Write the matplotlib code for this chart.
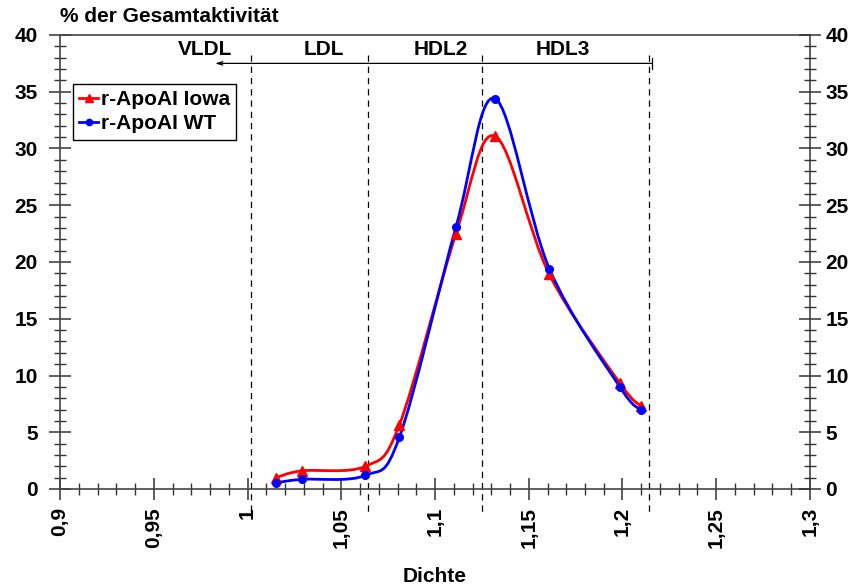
import matplotlib
matplotlib.use('Agg')
import matplotlib.pyplot as plt
from matplotlib.path import Path
from matplotlib.patches import PathPatch
from matplotlib.ticker import MultipleLocator, FuncFormatter

plt.rcParams['font.family'] = ['Liberation Sans', 'DejaVu Sans']
plt.rcParams['font.weight'] = 'bold'
FS = 15

# Density fractions and activity share (%)
dichte = [1.0152, 1.0289, 1.0629, 1.081, 1.1112, 1.132, 1.161, 1.1987, 1.2099]
iowa = [1.0, 1.6, 2.0, 5.65, 22.5, 31.1, 18.9, 9.3, 7.3]
wt = [0.55, 0.85, 1.2, 4.55, 23.1, 34.4, 19.4, 8.96, 6.96]

# Fraction boundaries and labels
grenzen = [1.002, 1.064, 1.125, 1.214]
fraktionen = ['VLDL', 'LDL', 'HDL2', 'HDL3']
label_x = [0.9773, 1.041, 1.103, 1.168]

XMIN, XMAX, YMIN, YMAX = 0.9, 1.3, 0, 40


def smooth_path(xs, ys):
    # Bezier curve through the points (like Excel's smoothed line),
    # computed in axes fraction so the curve shape is independent of scale
    px = [(x - XMIN) / (XMAX - XMIN) for x in xs]
    py = [(y - YMIN) / (YMAX - YMIN) for y in ys]
    n = len(px)
    verts = [(px[0], py[0])]
    codes = [Path.MOVETO]
    for i in range(n - 1):
        p0 = max(i - 1, 0)
        p3 = min(i + 2, n - 1)
        c1 = (px[i] + (px[i + 1] - px[p0]) / 6, py[i] + (py[i + 1] - py[p0]) / 6)
        c2 = (px[i + 1] - (px[p3] - px[i]) / 6, py[i + 1] - (py[p3] - py[i]) / 6)
        verts += [c1, c2, (px[i + 1], py[i + 1])]
        codes += [Path.CURVE4] * 3
    return Path(verts, codes)


fig = plt.figure(figsize=(8.54, 5.87), dpi=100)
ax = fig.add_axes([60 / 854, 1 - 489 / 587, 750 / 854, 454 / 587])
ax.set_xlim(XMIN, XMAX)
ax.set_ylim(YMIN, YMAX)

# smoothed curves + markers
for ys, col, mk, ms, lab in [(iowa, '#ff0000', '^', 7, 'r-ApoAI Iowa'),
                             (wt, '#0000ff', 'o', 5.5, 'r-ApoAI WT')]:
    ax.add_patch(PathPatch(smooth_path(dichte, ys), transform=ax.transAxes,
                           fill=False, edgecolor=col, lw=2, zorder=4))
    ax.plot(dichte, ys, linestyle='none', marker=mk, ms=ms, color=col, zorder=5)
    ax.plot([], [], color=col, lw=2, marker=mk, ms=ms - 1, label=lab)

# fraction boundaries
for g in grenzen:
    ax.plot([g, g], [38.2, -2.3], color='black', lw=0.9, dashes=(5, 4),
            clip_on=False, zorder=2)
ax.annotate('', xy=(0.9827, 37.5), xytext=(grenzen[-1] + 0.0015, 37.5),
            arrowprops=dict(arrowstyle='->,head_length=0.4,head_width=0.12',
                            lw=0.9, color='black', shrinkA=0, shrinkB=0))
ax.plot([grenzen[-1] + 0.0015] * 2, [37.0, 38.0], color='black', lw=0.9)
for lx, name in zip(label_x, fraktionen):
    ax.text(lx, 38.75, name, ha='center', va='center', fontsize=FS,
            fontweight='bold')

# axes styling
ax.spines['bottom'].set_position(('data', 0))
for s in ax.spines.values():
    s.set_color('#444444')
    s.set_linewidth(1.2)

ax.xaxis.set_major_locator(MultipleLocator(0.05))
ax.xaxis.set_minor_locator(MultipleLocator(0.01))
ax.yaxis.set_major_locator(MultipleLocator(5))
ax.yaxis.set_minor_locator(MultipleLocator(1))
ax.xaxis.set_major_formatter(FuncFormatter(lambda v, p: f'{v:g}'.replace('.', ',')))
ax.tick_params(which='major', direction='inout', length=16, width=1.1,
               color='#333333', labelsize=FS)
ax.tick_params(which='minor', direction='inout', length=8, width=1.0,
               color='#333333')
ax.tick_params(axis='x', which='major', pad=5, labelrotation=90)
ax.tick_params(axis='y', which='major', pad=8)

ax2 = ax.twinx()
ax2.set_ylim(YMIN, YMAX)
ax2.yaxis.set_major_locator(MultipleLocator(5))
ax2.yaxis.set_minor_locator(MultipleLocator(1))
ax2.tick_params(which='major', direction='inout', length=16, width=1.1,
                color='#333333', labelsize=FS, pad=3)
ax2.tick_params(which='minor', direction='inout', length=8, width=1.0,
                color='#333333')
for s in ax2.spines.values():
    s.set_visible(False)

for t in ax.get_xticklabels() + ax.get_yticklabels() + ax2.get_yticklabels():
    t.set_fontweight('bold')

leg = ax.legend(loc='upper left', bbox_to_anchor=(0.0173, 0.892),
                borderaxespad=0, handlelength=0.9, handletextpad=0.15,
                labelspacing=0.25, fancybox=False, framealpha=1,
                borderpad=0.3, prop={'weight': 'bold', 'size': FS})
leg.get_frame().set_edgecolor('black')
leg.get_frame().set_linewidth(1.0)

fig.text(60 / 854, 1 - 17 / 587, '% der Gesamtaktivität', ha='left',
         va='center', fontsize=FS, fontweight='bold')
fig.text(435 / 854, 1 - 577 / 587, 'Dichte', ha='center', va='center',
         fontsize=FS, fontweight='bold')

fig.savefig('out.png', dpi=100)
